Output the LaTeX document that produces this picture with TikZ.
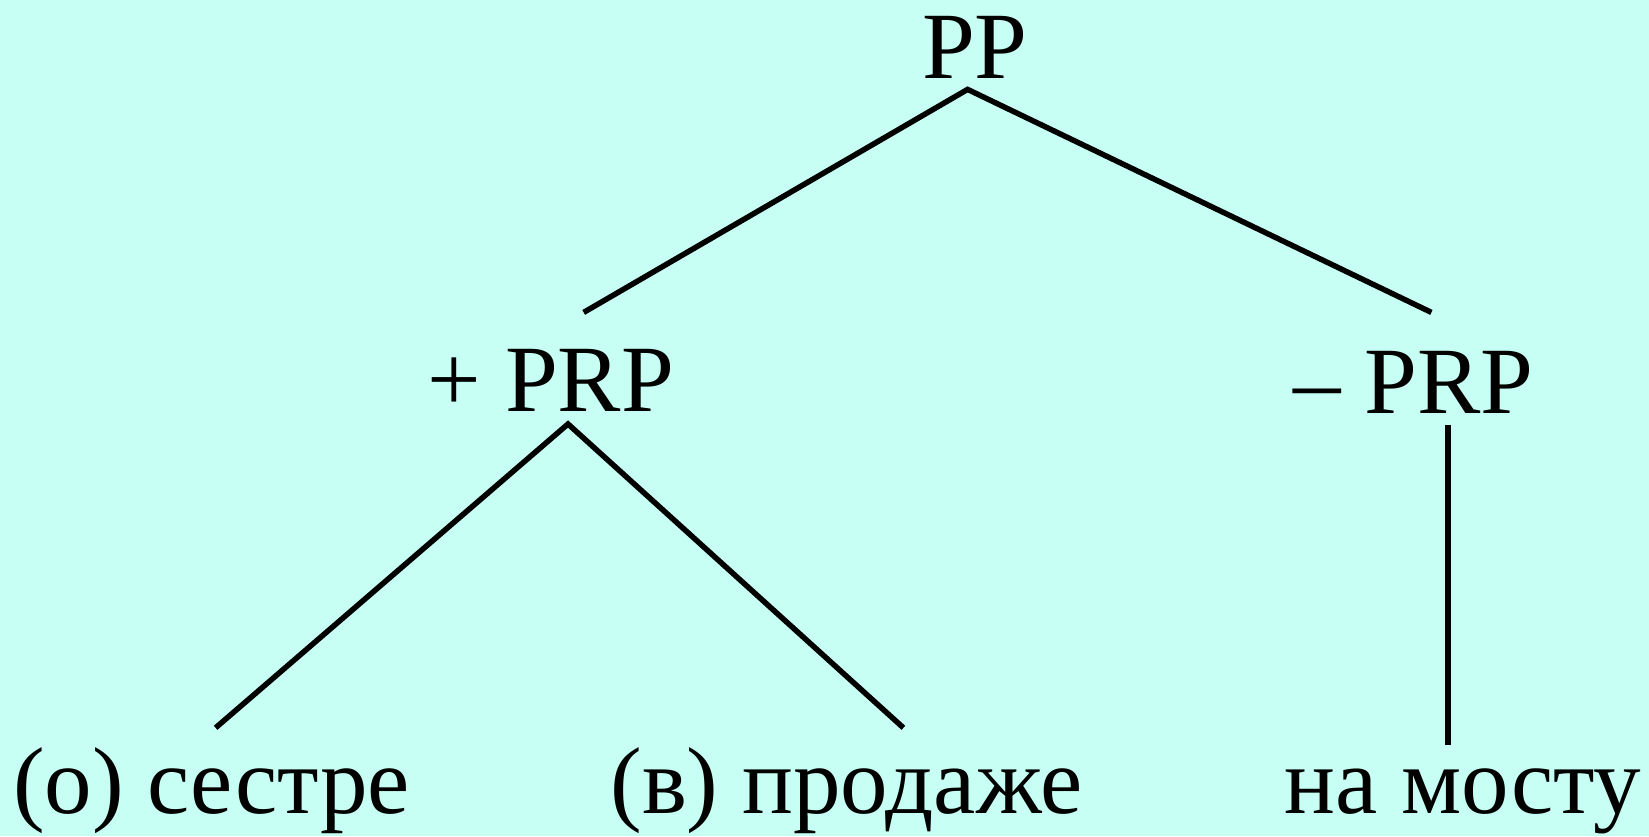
\documentclass[tikz,border=0pt]{standalone}
\usepackage{fontspec}
\setmainfont{Liberation Serif}
\definecolor{bgcyan}{RGB}{200,255,244}
\begin{document}
\begin{tikzpicture}[x=1pt,y=-1pt,
  lbl/.style={anchor=base,inner sep=0pt,font=\fontsize{95}{112}\selectfont},
  edge/.style={line width=5.5pt}]
\fill[bgcyan] (0,0) rectangle (1649,836);
\useasboundingbox (0,0) rectangle (1649,836);
\node[lbl] (pp) at (975,78) {PP};
\node[lbl] (plus) at (551,411) {+ PRP};
\node[lbl] (minus) at (1413.5,413) {– PRP};
\node[lbl] (sestre) at (211.5,813) {(о) сестре};
\node[lbl] (prodazhe) at (846.5,813) {(в) продаже};
\node[lbl] (mostu) at (1463,813) {на мосту};
\coordinate (ppB) at (967.6,89.4);
\coordinate (plusT) at (583.7,312.4);
\coordinate (minusT) at (1431.4,312.4);
\coordinate (plusB) at (568,424);
\coordinate (sestreT) at (215.6,727.8);
\coordinate (prodT) at (903.4,727.8);
\coordinate (minusB) at (1448,425);
\coordinate (mostuT) at (1448,744.6);
\draw[edge] (plusT) -- (ppB) -- (minusT);
\draw[edge] (sestreT) -- (plusB) -- (prodT);
\draw[edge] (minusB) -- (mostuT);
\end{tikzpicture}
\end{document}
